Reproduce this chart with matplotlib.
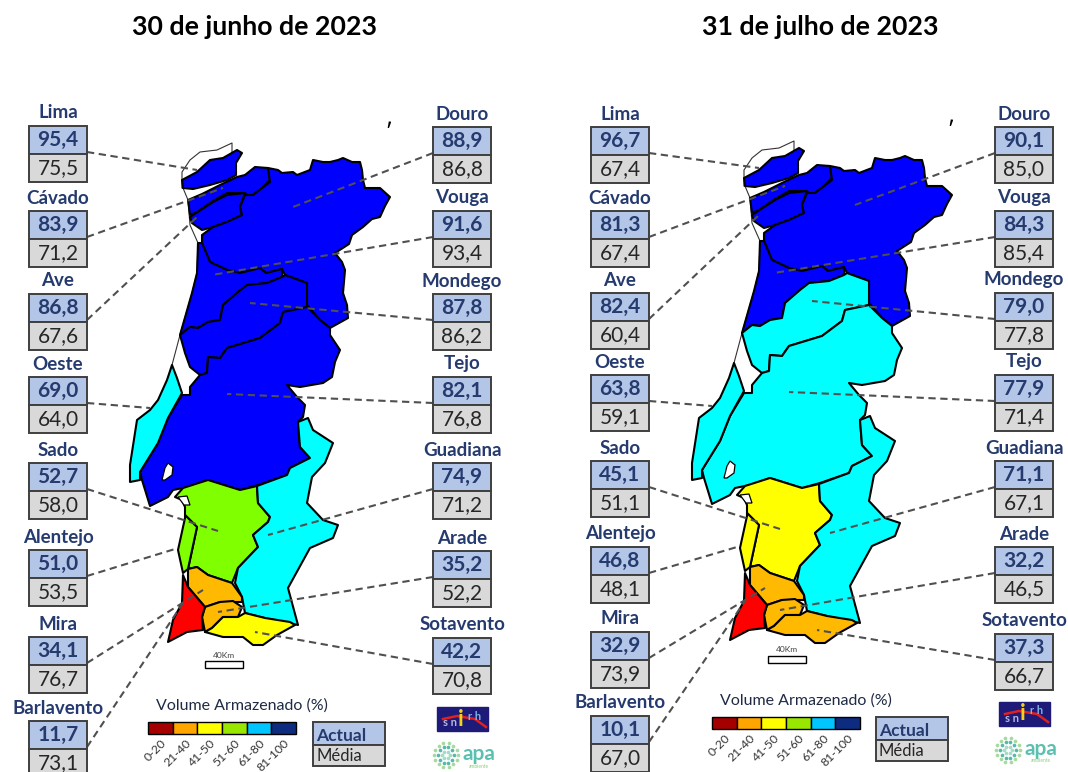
import numpy as np
import matplotlib
matplotlib.use('Agg')
import matplotlib.pyplot as plt

plt.rcParams['font.family'] = ['Lato', 'DejaVu Sans']

# values per basin
left_names = ['Lima', 'Cávado', 'Ave', 'Oeste', 'Sado', 'Alentejo', 'Mira', 'Barlavento']
right_names = ['Douro', 'Vouga', 'Mondego', 'Tejo', 'Guadiana', 'Arade', 'Sotavento']

jun_left_actual = ['95,4', '83,9', '86,8', '69,0', '52,7', '51,0', '34,1', '11,7']
jun_left_media = ['75,5', '71,2', '67,6', '64,0', '58,0', '53,5', '76,7', '73,1']
jun_right_actual = ['88,9', '91,6', '87,8', '82,1', '74,9', '35,2', '42,2']
jun_right_media = ['86,8', '93,4', '86,2', '76,8', '71,2', '52,2', '70,8']

jul_left_actual = ['96,7', '81,3', '82,4', '63,8', '45,1', '46,8', '32,9', '10,1']
jul_left_media = ['67,4', '67,4', '60,4', '59,1', '51,1', '48,1', '73,9', '67,0']
jul_right_actual = ['90,1', '84,3', '79,0', '77,9', '71,1', '32,2', '37,3']
jul_right_media = ['85,0', '85,4', '77,8', '71,4', '67,1', '46,5', '66,7']

# top of each box, in image pixels
jun_left_tops = [126, 211, 294, 377, 463, 550, 637, 721]
jun_right_tops = [127, 211, 294, 377, 463, 551, 638]
jul_left_tops = [127, 211, 293, 375, 461, 547, 632, 716]
jul_right_tops = [127, 211, 293, 375, 461, 547, 634]

legend_labels = ['0-20', '21-40', '41-50', '51-60', '61-80', '81-100']
legend_colors = ['#a50000', '#ffa500', '#ffff00', '#99e600', '#00c5ff', '#0d2c80']

BLUE = '#0000ff'
CYAN = '#00ffff'
GREEN = '#80ff00'
YELLOW = '#ffff00'
ORANGE = '#ffb900'
RED = '#ff0000'

jun_colors = {'Lima': BLUE, 'Cávado': BLUE, 'Ave': BLUE, 'Douro': BLUE, 'Vouga': BLUE, 'Mondego': BLUE,
              'Tejo': BLUE, 'Oeste': CYAN, 'Sado': GREEN, 'Alentejo': GREEN, 'Guadiana': CYAN,
              'Mira': ORANGE, 'Arade': ORANGE, 'Barlavento': RED, 'Sotavento': YELLOW}
jul_colors = {'Lima': BLUE, 'Cávado': BLUE, 'Ave': BLUE, 'Douro': BLUE, 'Vouga': BLUE, 'Mondego': CYAN,
              'Tejo': CYAN, 'Oeste': CYAN, 'Sado': YELLOW, 'Alentejo': YELLOW, 'Guadiana': CYAN,
              'Mira': ORANGE, 'Arade': ORANGE, 'Barlavento': RED, 'Sotavento': ORANGE}

basins = {
    'Lima': [(183, 188), (182, 180), (197, 172), (210, 160), (223, 158), (237, 150), (242, 153), (236, 163),
             (236, 175), (227, 180), (210, 185), (193, 189)],
    'Cávado': [(188, 200), (202, 194), (220, 185), (237, 177), (245, 175), (255, 167), (268, 168), (270, 180),
               (262, 188), (250, 197), (245, 193), (227, 193), (213, 201), (197, 212), (190, 215)],
    'Ave': [(190, 217), (213, 202), (227, 195), (245, 193), (240, 207), (242, 215), (227, 222), (213, 227),
            (202, 230), (192, 223)],
    'Douro': [(202, 235), (213, 227), (227, 222), (242, 215), (240, 207), (245, 195), (253, 195), (270, 182),
              (268, 168), (278, 170), (282, 173), (293, 172), (297, 175), (310, 170), (313, 160), (323, 162),
              (330, 162), (338, 160), (343, 158), (352, 162), (360, 162), (362, 170), (363, 180), (365, 188),
              (380, 188), (390, 197), (385, 206), (380, 217), (372, 219), (363, 227), (352, 235), (349, 244),
              (335, 253), (342, 262), (345, 270), (343, 293), (347, 305), (348, 318), (330, 328), (320, 320),
              (307, 305), (307, 283), (285, 275), (282, 269), (266, 273), (260, 268), (240, 273), (227, 270),
              (210, 262), (202, 243)],
    'Vouga': [(198, 243), (197, 273), (192, 293), (180, 335), (190, 327), (198, 328), (208, 322), (220, 320),
              (223, 305), (238, 292), (247, 285), (267, 283), (282, 277), (282, 269), (266, 273), (260, 268),
              (240, 273), (227, 270), (210, 262), (202, 243)],
    'Mondego': [(180, 335), (185, 353), (190, 367), (200, 375), (207, 373), (208, 357), (220, 358), (227, 348),
                (260, 338), (280, 323), (283, 312), (307, 307), (307, 283), (285, 275), (282, 277), (267, 283),
                (247, 285), (238, 292), (223, 305), (220, 320), (208, 322), (198, 328), (190, 327)],
    'Tejo': [(200, 375), (207, 373), (208, 357), (220, 358), (227, 348), (260, 338), (280, 323), (283, 312),
             (307, 307), (320, 320), (330, 328), (330, 335), (340, 350), (335, 362), (332, 377), (323, 383),
             (300, 387), (287, 385), (297, 397), (305, 405), (303, 417), (298, 422), (300, 447), (310, 458),
             (290, 468), (287, 475), (258, 485), (240, 490), (208, 480), (188, 487), (173, 490), (168, 497),
             (150, 506), (142, 480), (140, 472), (158, 443), (168, 418), (182, 395), (190, 395), (190, 387)],
    'Oeste': [(172, 365), (177, 378), (182, 393), (168, 418), (158, 443), (140, 472), (140, 480), (130, 482),
              (130, 465), (137, 420), (150, 410), (158, 400), (167, 380)],
    'Sado': [(175, 497), (183, 488), (208, 480), (240, 490), (257, 486), (258, 503), (270, 517), (268, 522),
             (253, 535), (258, 547), (238, 568), (232, 583), (208, 575), (197, 567), (188, 569), (197, 527),
             (185, 515), (185, 507), (182, 500)],
    'Alentejo': [(185, 515), (197, 527), (188, 569), (183, 573), (178, 550), (185, 518)],
    'Guadiana': [(257, 486), (287, 475), (290, 468), (310, 458), (300, 447), (298, 422), (308, 418), (313, 430),
                 (333, 443), (325, 463), (312, 477), (307, 503), (323, 520), (338, 525), (333, 538), (310, 548),
                 (288, 588), (298, 625), (265, 618), (245, 613), (242, 597), (235, 583), (238, 568), (258, 547),
                 (253, 535), (268, 522), (270, 517), (258, 503)],
    'Mira': [(188, 569), (197, 567), (208, 575), (232, 583), (242, 597), (242, 602), (220, 602), (205, 607),
             (188, 587)],
    'Arade': [(205, 607), (220, 602), (233, 601), (242, 607), (238, 617), (223, 617), (212, 628), (205, 632),
              (202, 617)],
    'Barlavento': [(183, 575), (188, 587), (205, 607), (202, 617), (203, 630), (187, 632), (168, 642), (173, 620),
                   (182, 603)],
    'Sotavento': [(212, 628), (223, 617), (238, 617), (245, 613), (265, 618), (290, 622), (295, 625), (277, 635),
                  (263, 645), (253, 645), (243, 637), (223, 637), (205, 632)],
}

estuary_tejo = [(162, 480), (165, 468), (168, 463), (173, 467), (172, 475), (165, 480)]
estuary_sado = [(178, 497), (187, 496), (190, 505), (184, 505)]
north_coast = [(182, 188), (182, 172), (190, 160), (200, 152), (217, 150), (232, 143), (232, 153)]
west_coast = [(183, 188), (188, 200), (190, 225), (198, 243), (197, 273), (192, 293), (180, 335), (172, 365)]

# where each leader line ends on the left map
left_targets = [(197, 170), (223, 188), (197, 217), (150, 408), (218, 531), (175, 549), (203, 590), (183, 603)]
right_targets = [(293, 207), (212, 275), (250, 303), (227, 394), (268, 535), (218, 612), (255, 632)]

BOX_W = 58
CELL_H = 28
NAVY = '#253a6e'
EDGE = '#3f3f3f'

fig = plt.figure(figsize=(10.68, 7.72), dpi=100)
ax = fig.add_axes([0, 0, 1, 1])
ax.set_xlim(0, 1068)
ax.set_ylim(772, 0)
ax.axis('off')


def draw_box(x, top, name, actual, media):
    ax.fill([x, x + BOX_W, x + BOX_W, x], [top, top, top + CELL_H, top + CELL_H], facecolor='#b4c6e7',
            edgecolor=EDGE, lw=1.4, zorder=5)
    ax.fill([x, x + BOX_W, x + BOX_W, x], [top + CELL_H, top + CELL_H, top + 2 * CELL_H, top + 2 * CELL_H],
            facecolor='#d9d9d9', edgecolor=EDGE, lw=1.4, zorder=5)
    ax.text(x + BOX_W / 2, top - 13, name, ha='center', va='center', fontsize=13.5, color=NAVY, weight='bold', zorder=6)
    ax.text(x + BOX_W / 2, top + CELL_H / 2, actual, ha='center', va='center', fontsize=15, color=NAVY, weight='bold',
            zorder=6)
    ax.text(x + BOX_W / 2, top + CELL_H * 1.5, media, ha='center', va='center', fontsize=15, color='#262626', zorder=6)


def draw_panel(dx, dy, colors, l_tops, r_tops, l_act, l_med, r_act, r_med):
    # map
    for name, pts in basins.items():
        xs = [p[0] + dx for p in pts]
        ys = [p[1] + dy for p in pts]
        ax.fill(xs, ys, facecolor=colors[name], edgecolor='black', lw=1.5, joinstyle='round', zorder=2)
    for pts in [estuary_tejo, estuary_sado]:
        ax.fill([p[0] + dx for p in pts], [p[1] + dy for p in pts], facecolor='white', edgecolor='black', lw=0.9,
                zorder=3)
    for pts in [north_coast, west_coast]:
        ax.plot([p[0] + dx for p in pts], [p[1] + dy for p in pts], color='#333333', lw=0.8, zorder=1)
    ax.text(388 + dx, 132 + dy, '′', ha='center', va='center', fontsize=13, weight='bold', color='black')

    # boxes and leader lines
    x_left = 29 + dx
    x_right = 433 + dx
    for i, name in enumerate(left_names):
        draw_box(x_left, l_tops[i], name, l_act[i], l_med[i])
        tx, ty = left_targets[i]
        ax.plot([x_left + BOX_W, tx + dx], [l_tops[i] + CELL_H - 2, ty + dy], color='#505050', lw=1.5,
                ls=(0, (3.5, 2.2)), zorder=4)
    for i, name in enumerate(right_names):
        draw_box(x_right, r_tops[i], name, r_act[i], r_med[i])
        tx, ty = right_targets[i]
        ax.plot([x_right, tx + dx], [r_tops[i] + CELL_H - 2, ty + dy], color='#505050', lw=1.5,
                ls=(0, (3.5, 2.2)), zorder=4)


def draw_legend(bar_x, bar_y, key_x, key_y, scale_x, scale_y, logo_dx, logo_dy):
    # scale bar
    ax.fill([scale_x, scale_x + 38, scale_x + 38, scale_x], [scale_y, scale_y, scale_y + 7, scale_y + 7],
            facecolor='white', edgecolor='black', lw=1)
    ax.text(scale_x + 19, scale_y - 6, '40Km', ha='center', va='center', fontsize=6, color='#404040')

    # colour scale
    ax.text(bar_x + 94, bar_y - 16, 'Volume Armazenado (%)', ha='center', va='center', fontsize=11.5, color='#1f2a44')
    w = 148 / len(legend_colors)
    for i, c in enumerate(legend_colors):
        x0 = bar_x + i * w
        ax.fill([x0, x0 + w, x0 + w, x0], [bar_y, bar_y, bar_y + 12, bar_y + 12], facecolor=c, edgecolor='black', lw=1)
        ax.text(x0 + w * 0.5, bar_y + 15, legend_labels[i], rotation=45, ha='right', va='top',
                rotation_mode='anchor', fontsize=8.8, color='#333333')

    # actual / media key
    ax.fill([key_x, key_x + 72, key_x + 72, key_x], [key_y, key_y, key_y + 23, key_y + 23], facecolor='#b4c6e7',
            edgecolor=EDGE, lw=1.4)
    ax.fill([key_x, key_x + 72, key_x + 72, key_x], [key_y + 23, key_y + 23, key_y + 44, key_y + 44],
            facecolor='#d9d9d9', edgecolor=EDGE, lw=1.4)
    ax.text(key_x + 3, key_y + 14, 'Actual', ha='left', va='center', fontsize=12.5, color=NAVY, weight='bold')
    ax.text(key_x + 3, key_y + 34, 'Média', ha='left', va='center', fontsize=12, color='#262626')

    # snirh logo
    lx = 437 + logo_dx
    ly = 707 + logo_dy
    ax.fill([lx, lx + 51, lx + 51, lx], [ly, ly, ly + 24, ly + 24], facecolor='#1d1a78', edgecolor='#1d1a78')
    ax.plot([lx + 6, lx + 20, lx + 38, lx + 49], [ly + 12, ly + 9, ly + 12, ly + 20], color='#e02020', lw=1.8)
    ax.text(lx + 13, ly + 16, 's n', ha='center', va='center', fontsize=8, color='#b9b9e0', weight='bold')
    ax.text(lx + 24, ly + 12, 'i', ha='center', va='center', fontsize=16, color='#f2d21b', weight='bold')
    ax.text(lx + 38, ly + 9, 'r h', ha='center', va='center', fontsize=8, color='#7fb2e8', weight='bold')

    # apa logo
    cx = 446 + logo_dx
    cy = 755 + logo_dy
    for r, n, c in [(4, 6, '#a5dcc8'), (8, 10, '#58b9aa'), (12, 14, '#a7d9a0')]:
        ang = np.arange(n) * 2 * np.pi / n
        ax.scatter(cx + r * np.cos(ang), cy + r * np.sin(ang), s=7, color=c, lw=0)
    ax.text(479 + logo_dx, 754 + logo_dy, 'apa', ha='center', va='center', fontsize=15, color='#5cc0b0', weight='bold')
    ax.text(479 + logo_dx, 766 + logo_dy, 'ambiente', ha='center', va='center', fontsize=3.5, color='#8ccf78')


ax.text(254, 27, '30 de junho de 2023', ha='center', va='center', fontsize=19.3, weight='bold', color='black')
ax.text(820, 27, '31 de julho de 2023', ha='center', va='center', fontsize=19.3, weight='bold', color='black')

draw_panel(0, 0, jun_colors, jun_left_tops, jun_right_tops, jun_left_actual, jun_left_media, jun_right_actual,
           jun_right_media)
draw_panel(562, -2, jul_colors, jul_left_tops, jul_right_tops, jul_left_actual, jul_left_media, jul_right_actual,
           jul_right_media)

draw_legend(148, 722, 313, 722, 205, 661, 0, 0)
draw_legend(712, 717, 876, 717, 768, 656, 562, -5)

fig.savefig('out.png', dpi=100)
